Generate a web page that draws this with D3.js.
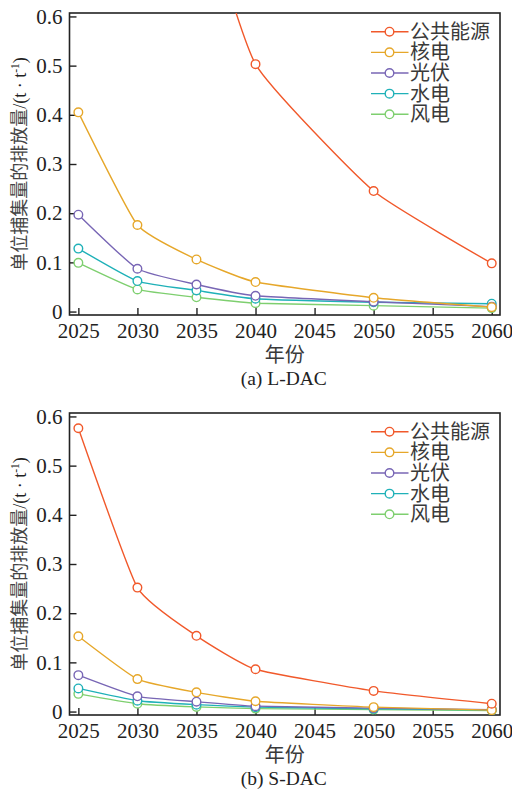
<!DOCTYPE html>
<html>
<head>
<meta charset="utf-8">
<script src="https://cdn.jsdelivr.net/npm/d3@7"></script>
<style>
  body { margin: 0; background: #fff; }
  svg { display: block; }
</style>
</head>
<body>
<svg id="chart" width="512" height="789"></svg>
<script>
var years = [2025, 2030, 2035, 2040, 2050, 2060];
var seriesNames = ["公共能源", "核电", "光伏", "水电", "风电"];
var seriesColors = ["#f1592b", "#e6a72a", "#7866b5", "#1fb1b8", "#7ecf6f"];

// (a) L-DAC
var ldacPublic = [3.3, 1.45, 0.88, 0.503, 0.245, 0.098];
var ldacNuclear = [0.405, 0.176, 0.106, 0.060, 0.028, 0.009];
var ldacSolar = [0.197, 0.087, 0.055, 0.032, 0.020, 0.010];
var ldacHydro = [0.128, 0.062, 0.043, 0.026, 0.019, 0.016];
var ldacWind = [0.099, 0.045, 0.029, 0.017, 0.012, 0.007];

// (b) S-DAC
var sdacPublic = [0.576, 0.252, 0.154, 0.086, 0.042, 0.016];
var sdacNuclear = [0.153, 0.066, 0.039, 0.021, 0.009, 0.003];
var sdacSolar = [0.074, 0.031, 0.020, 0.011, 0.007, 0.004];
var sdacHydro = [0.047, 0.022, 0.014, 0.009, 0.0055, 0.0035];
var sdacWind = [0.036, 0.016, 0.0095, 0.006, 0.004, 0.002];

var yTicks = [0, 0.1, 0.2, 0.3, 0.4, 0.5, 0.6];
var xTicks = [2025, 2030, 2035, 2040, 2045, 2050, 2055, 2060];

var panels = [
  { caption: "(a) L-DAC", top: 13, data: [ldacPublic, ldacNuclear, ldacSolar, ldacHydro, ldacWind] },
  { caption: "(b) S-DAC", top: 413, data: [sdacPublic, sdacNuclear, sdacSolar, sdacHydro, sdacWind] }
];

var SERIF = '"Liberation Serif", "Times New Roman", serif';
var CJK = '"Noto Sans CJK SC", sans-serif';

var svg = d3.select("#chart");
var left = 69.5, right = 500, ph = 302;

var x = d3.scaleLinear().domain([2024.25, 2060.7]).range([left, right]);

panels.forEach(function(p, pi) {
  var y = d3.scaleLinear().domain([-0.007, 0.607]).range([p.top + ph, p.top]);
  var g = svg.append("g");

  var clipId = "clip" + pi;
  svg.append("clipPath").attr("id", clipId)
    .append("rect")
    .attr("x", left).attr("y", p.top)
    .attr("width", right - left).attr("height", ph);

  var yAxis = d3.axisLeft(y).tickValues(yTicks)
    .tickSizeInner(-7).tickSizeOuter(0).tickPadding(7)
    .tickFormat(function(d) { return d === 0 ? "0" : d3.format(".1f")(d); });
  var xAxis = d3.axisBottom(x).tickValues(xTicks)
    .tickSizeInner(-7).tickSizeOuter(0).tickPadding(8)
    .tickFormat(d3.format("d"));

  var ya = g.append("g").attr("transform", "translate(" + left + ",0)").call(yAxis);
  var xa = g.append("g").attr("transform", "translate(0," + (p.top + ph) + ")").call(xAxis);
  [ya, xa].forEach(function(a) {
    a.attr("font-family", SERIF).attr("font-size", 21);
    a.selectAll("path.domain").remove();
    a.selectAll(".tick line").attr("stroke", "#222").attr("stroke-width", 1.4);
    a.selectAll("text")
      .style("font-family", SERIF)
      .style("font-size", "21px")
      .attr("fill", "#222");
  });

  g.append("rect")
    .attr("x", left).attr("y", p.top)
    .attr("width", right - left).attr("height", ph)
    .attr("fill", "none").attr("stroke", "#222").attr("stroke-width", 1.6);

  var line = d3.line()
    .x(function(d, i) { return x(years[i]); })
    .y(function(d) { return y(d); })
    .curve(d3.curveCardinal.tension(0.55));

  var plot = g.append("g").attr("clip-path", "url(#" + clipId + ")");
  p.data.slice().reverse().forEach(function(vals, ri) {
    var si = p.data.length - 1 - ri;
    plot.append("path")
      .attr("d", line(vals))
      .attr("fill", "none")
      .attr("stroke", seriesColors[si])
      .attr("stroke-width", 1.4);
    plot.selectAll(null)
      .data(vals)
      .enter().append("circle")
      .attr("cx", function(d, i) { return x(years[i]); })
      .attr("cy", function(d) { return y(d); })
      .attr("r", 4.3)
      .attr("fill", "#fff")
      .attr("stroke", seriesColors[si])
      .attr("stroke-width", 1.4);
  });

  // legend
  var leg = g.append("g");
  seriesNames.forEach(function(name, i) {
    var ly = p.top + 18.7 + i * 20.65;
    leg.append("line")
      .attr("x1", 371).attr("x2", 408.5)
      .attr("y1", ly).attr("y2", ly)
      .attr("stroke", seriesColors[i]).attr("stroke-width", 1.4);
    leg.append("circle")
      .attr("cx", 389.5).attr("cy", ly).attr("r", 4.3)
      .attr("fill", "#fff").attr("stroke", seriesColors[i]).attr("stroke-width", 1.4);
    leg.append("text")
      .attr("x", 410).attr("y", ly + 7)
      .style("font-family", CJK)
      .style("font-size", "20px")
      .attr("fill", "#3a3a3a")
      .text(name);
  });

  // y label
  var cy = p.top + ph / 2;
  var yl = g.append("text")
    .attr("transform", "translate(26," + cy + ") rotate(-90)")
    .attr("text-anchor", "middle")
    .attr("fill", "#444")
    .style("font-size", "18px");
  yl.append("tspan").style("font-family", CJK).text("单位捕集量的排放量");
  yl.append("tspan").style("font-family", SERIF).attr("fill", "#222").text("/(t · t");
  yl.append("tspan").style("font-family", SERIF).attr("fill", "#222")
    .style("font-size", "11.5px").attr("dy", -7).text("-1");
  yl.append("tspan").style("font-family", SERIF).attr("fill", "#222").attr("dy", 7).text(")");

  // x label and caption
  g.append("text")
    .attr("x", (left + right) / 2).attr("y", p.top + ph + 47)
    .attr("text-anchor", "middle")
    .style("font-family", CJK)
    .style("font-size", "20px").attr("fill", "#3a3a3a")
    .text("年份");
  g.append("text")
    .attr("x", (left + right) / 2 - 1).attr("y", p.top + ph + 70)
    .attr("text-anchor", "middle")
    .style("font-family", SERIF)
    .style("font-size", "19.5px").attr("fill", "#222")
    .text(p.caption);
});
</script>
</body>
</html>
